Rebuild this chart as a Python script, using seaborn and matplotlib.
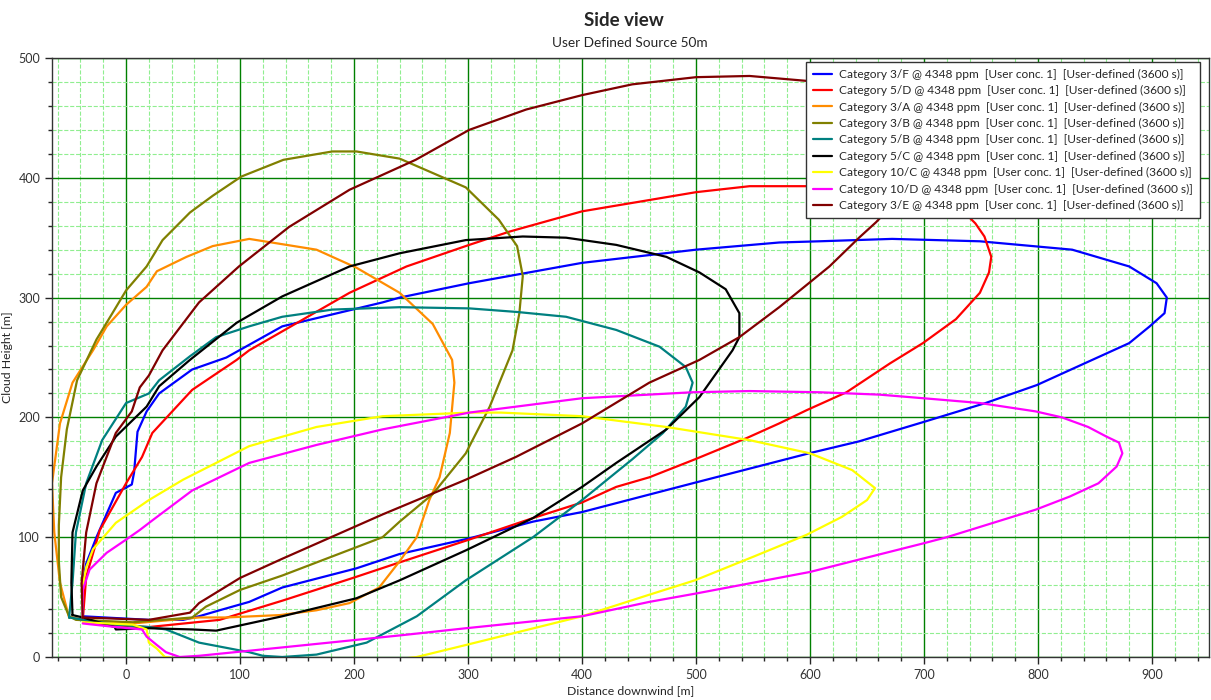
import matplotlib
matplotlib.use("Agg")
import matplotlib.pyplot as plt
from matplotlib.ticker import MultipleLocator
import seaborn as sns

# ---- data (x = distance downwind [m], y = cloud height [m]) ----
labels = ["Category 3/F", "Category 5/D", "Category 3/A", "Category 3/B", "Category 5/B",
          "Category 5/C", "Category 10/C", "Category 10/D", "Category 3/E"]
suffix = " @ 4348 ppm  [User conc. 1]  [User-defined (3600 s)]"
colors = ["#0000FF", "#FF0000", "#FF8C00", "#808000", "#008080",
          "#000000", "#FFFF00", "#FF00FF", "#800000"]

cat3f_x = [-38, -38, -35, -26, -9, 5, 7, 10, 18, 29, 58, 88, 137, 225, 240, 301, 400, 500, 573, 608,
           672, 749, 830, 880, 904, 913, 911, 898, 880, 836, 799, 754, 699, 643, 599, 497, 400, 357,
           301, 240, 202, 137, 108, 82, 64, 50, 20, -38]
cat3f_y = [34, 62, 78, 100, 137, 144, 154, 188, 205, 220, 240, 250, 276, 296, 300, 312, 329, 340, 346, 347,
           349, 347, 340, 326, 312, 300, 287, 276, 262, 243, 227, 212, 196, 180, 170, 145, 121, 113,
           99, 86, 74, 58, 46, 39, 34, 31, 31, 34]

cat5d_x = [-38, -35, -23, 0, 14, 23, 58, 97, 108, 196, 246, 301, 336, 400, 500, 547, 608, 660, 700,
           728, 745, 753, 759, 757, 749, 728, 699, 670, 632, 597, 573, 545, 499, 459, 430, 400, 357,
           301, 240, 199, 137, 82, 20, -23, -38]
cat5d_y = [31, 67, 106, 145, 167, 187, 223, 248, 256, 304, 326, 344, 355, 372, 388, 393, 393, 394, 389,
           378, 362, 351, 334, 321, 304, 282, 262, 245, 221, 206, 195, 183, 165, 150, 142, 129, 116,
           98, 79, 66, 47, 31, 25, 27, 31]

cat3a_x = [-50, -58, -63, -65, -58, -47, -29, -17, 0, 18, 27, 53, 76, 108, 167, 202, 240, 269, 286,
           288, 284, 275, 266, 255, 240, 222, 196, 167, 135, 88, 64, 6, -38, -47, -50]
cat3a_y = [33, 62, 104, 145, 195, 229, 256, 276, 294, 309, 322, 334, 343, 349, 340, 325, 304, 278, 248,
           229, 187, 150, 131, 100, 80, 58, 45, 39, 35, 33, 33, 28, 31, 33, 33]

cat3b_x = [-50, -57, -59, -59, -57, -52, -43, -26, -12, 0, 18, 32, 56, 76, 101, 138, 181, 202, 240,
           269, 298, 327, 343, 348, 345, 339, 319, 298, 269, 240, 225, 181, 137, 100, 70, 58, 6, -44, -50]
cat3b_y = [34, 50, 80, 110, 150, 190, 231, 265, 287, 306, 326, 348, 371, 385, 401, 415, 422, 422, 416,
           404, 392, 365, 343, 318, 287, 256, 209, 170, 136, 113, 100, 84, 68, 56, 42, 33, 29, 31, 34]

cat5b_x = [-50, -47, -44, -35, -21, 0, 20, 29, 56, 79, 108, 137, 181, 240, 301, 343, 386, 430, 468,
           491, 497, 491, 471, 444, 400, 357, 298, 255, 211, 167, 137, 120, 108, 64, 35, 20, -9, -50]
cat5b_y = [33, 62, 104, 145, 181, 212, 220, 231, 251, 267, 276, 284, 290, 292, 291, 288, 284, 273, 259,
           242, 229, 209, 187, 165, 131, 100, 64, 34, 12, 2, 0, 1, 4, 12, 23, 25, 27, 33]

cat5c_x = [-47, -48, -47, -38, -26, -9, 18, 29, 56, 97, 137, 196, 240, 298, 348, 386, 430, 474, 503,
           526, 538, 538, 532, 503, 474, 430, 400, 357, 298, 240, 202, 137, 79, 58, 20, -9, -10, -38, -47]
cat5c_y = [35, 62, 104, 139, 159, 184, 209, 226, 248, 279, 301, 326, 337, 348, 351, 350, 344, 334, 321,
           307, 287, 267, 256, 217, 190, 162, 142, 116, 89, 64, 49, 34, 22, 23, 24, 23, 25, 33, 35]

cat10c_x = [-38, -38, -35, -29, -9, 20, 50, 108, 167, 225, 301, 329, 400, 474, 547, 600, 637, 657,
            650, 628, 597, 551, 499, 459, 400, 298, 255, 150, 34, 27, 20, 18, 6, -38]
cat10c_y = [33, 60, 75, 90, 112, 131, 148, 176, 192, 201, 204, 204, 201, 192, 181, 170, 156, 141,
            131, 117, 102, 84, 64, 52, 34, 10, 0, -12, 0, 7, 12, 23, 27, 29]

cat10d_x = [-38, -38, -32, -17, 0, 12, 23, 58, 108, 167, 225, 301, 400, 497, 547, 608, 661, 712, 749,
            798, 821, 844, 860, 871, 874, 869, 853, 828, 798, 720, 700, 600, 500, 459, 400, 298, 240,
            137, 64, 47, 35, 27, 18, 14, -9, -38]
cat10d_y = [33, 56, 73, 87, 98, 106, 114, 139, 162, 177, 190, 204, 216, 221, 222, 221, 219, 215, 212,
            205, 200, 192, 184, 179, 170, 159, 145, 134, 123, 100, 95, 71, 53, 46, 34, 24, 18,
            8, 1, 0, 4, 10, 17, 23, 25, 28]

cat3e_x = [-38, -39, -35, -26, -9, 5, 12, 20, 32, 64, 99, 143, 196, 254, 301, 351, 400, 444, 500, 547,
           608, 650, 685, 700, 695, 675, 658, 643, 617, 573, 538, 503, 459, 400, 342, 298, 225, 137,
           100, 64, 56, 20, -38]
cat3e_y = [33, 62, 104, 145, 187, 205, 225, 235, 256, 296, 326, 359, 390, 415, 440, 457, 469, 478, 484, 485,
           480, 475, 455, 430, 400, 380, 363, 350, 326, 292, 267, 248, 229, 195, 167, 148, 119, 82,
           66, 45, 37, 31, 33]

series = [(cat3f_x, cat3f_y), (cat5d_x, cat5d_y), (cat3a_x, cat3a_y), (cat3b_x, cat3b_y),
          (cat5b_x, cat5b_y), (cat5c_x, cat5c_y), (cat10c_x, cat10c_y), (cat10d_x, cat10d_y),
          (cat3e_x, cat3e_y)]

sns.set_style("white")
plt.rcParams["font.family"] = ["Lato", "DejaVu Sans"]

fig = plt.figure(figsize=(12.11, 7.0), dpi=100)
ax = fig.add_axes([52 / 1211, 43 / 700, 1157 / 1211, 599 / 700])

for (xs, ys), lab, col in zip(series, labels, colors):
    sns.lineplot(x=xs, y=ys, sort=False, estimator=None, color=col, linewidth=1.6,
                 label=lab + suffix, ax=ax)

ax.set_xlim(-65, 950)
ax.set_ylim(0, 500)
ax.xaxis.set_major_locator(MultipleLocator(100))
ax.xaxis.set_minor_locator(MultipleLocator(20))
ax.yaxis.set_major_locator(MultipleLocator(100))
ax.yaxis.set_minor_locator(MultipleLocator(20))
ax.set_axisbelow(True)
ax.grid(which="minor", color="#90EE90", linestyle="--", linewidth=0.8)
ax.grid(which="major", color="#008000", linestyle="-", linewidth=1.0)
ax.tick_params(which="major", direction="out", length=5, width=1, labelsize=9,
               labelcolor="#333333", bottom=True, left=True)
ax.tick_params(which="minor", direction="out", length=3, width=1, bottom=True, left=True)
for sp in ax.spines.values():
    sp.set_color("#333333")
    sp.set_linewidth(1)

ax.set_xlabel("Distance downwind [m]", fontsize=8.8, labelpad=3)
ax.set_ylabel("Cloud Height [m]", fontsize=8.8, labelpad=4)

fig.text(624 / 1211, 1 - 20 / 700, "Side view", fontsize=13.5, fontweight="bold",
         ha="center", va="center")
fig.text(630 / 1211, 1 - 43 / 700, "User Defined Source 50m", fontsize=9.8,
         ha="center", va="center")

leg = ax.legend(loc="upper right", bbox_to_anchor=(0.992, 0.993), borderaxespad=0,
                fontsize=8.6, frameon=True, fancybox=False, framealpha=1,
                edgecolor="#333333", handlelength=1.6, labelspacing=0.45,
                borderpad=0.55, handletextpad=0.6)
leg.get_frame().set_linewidth(1)

fig.savefig("out.png", dpi=100)
